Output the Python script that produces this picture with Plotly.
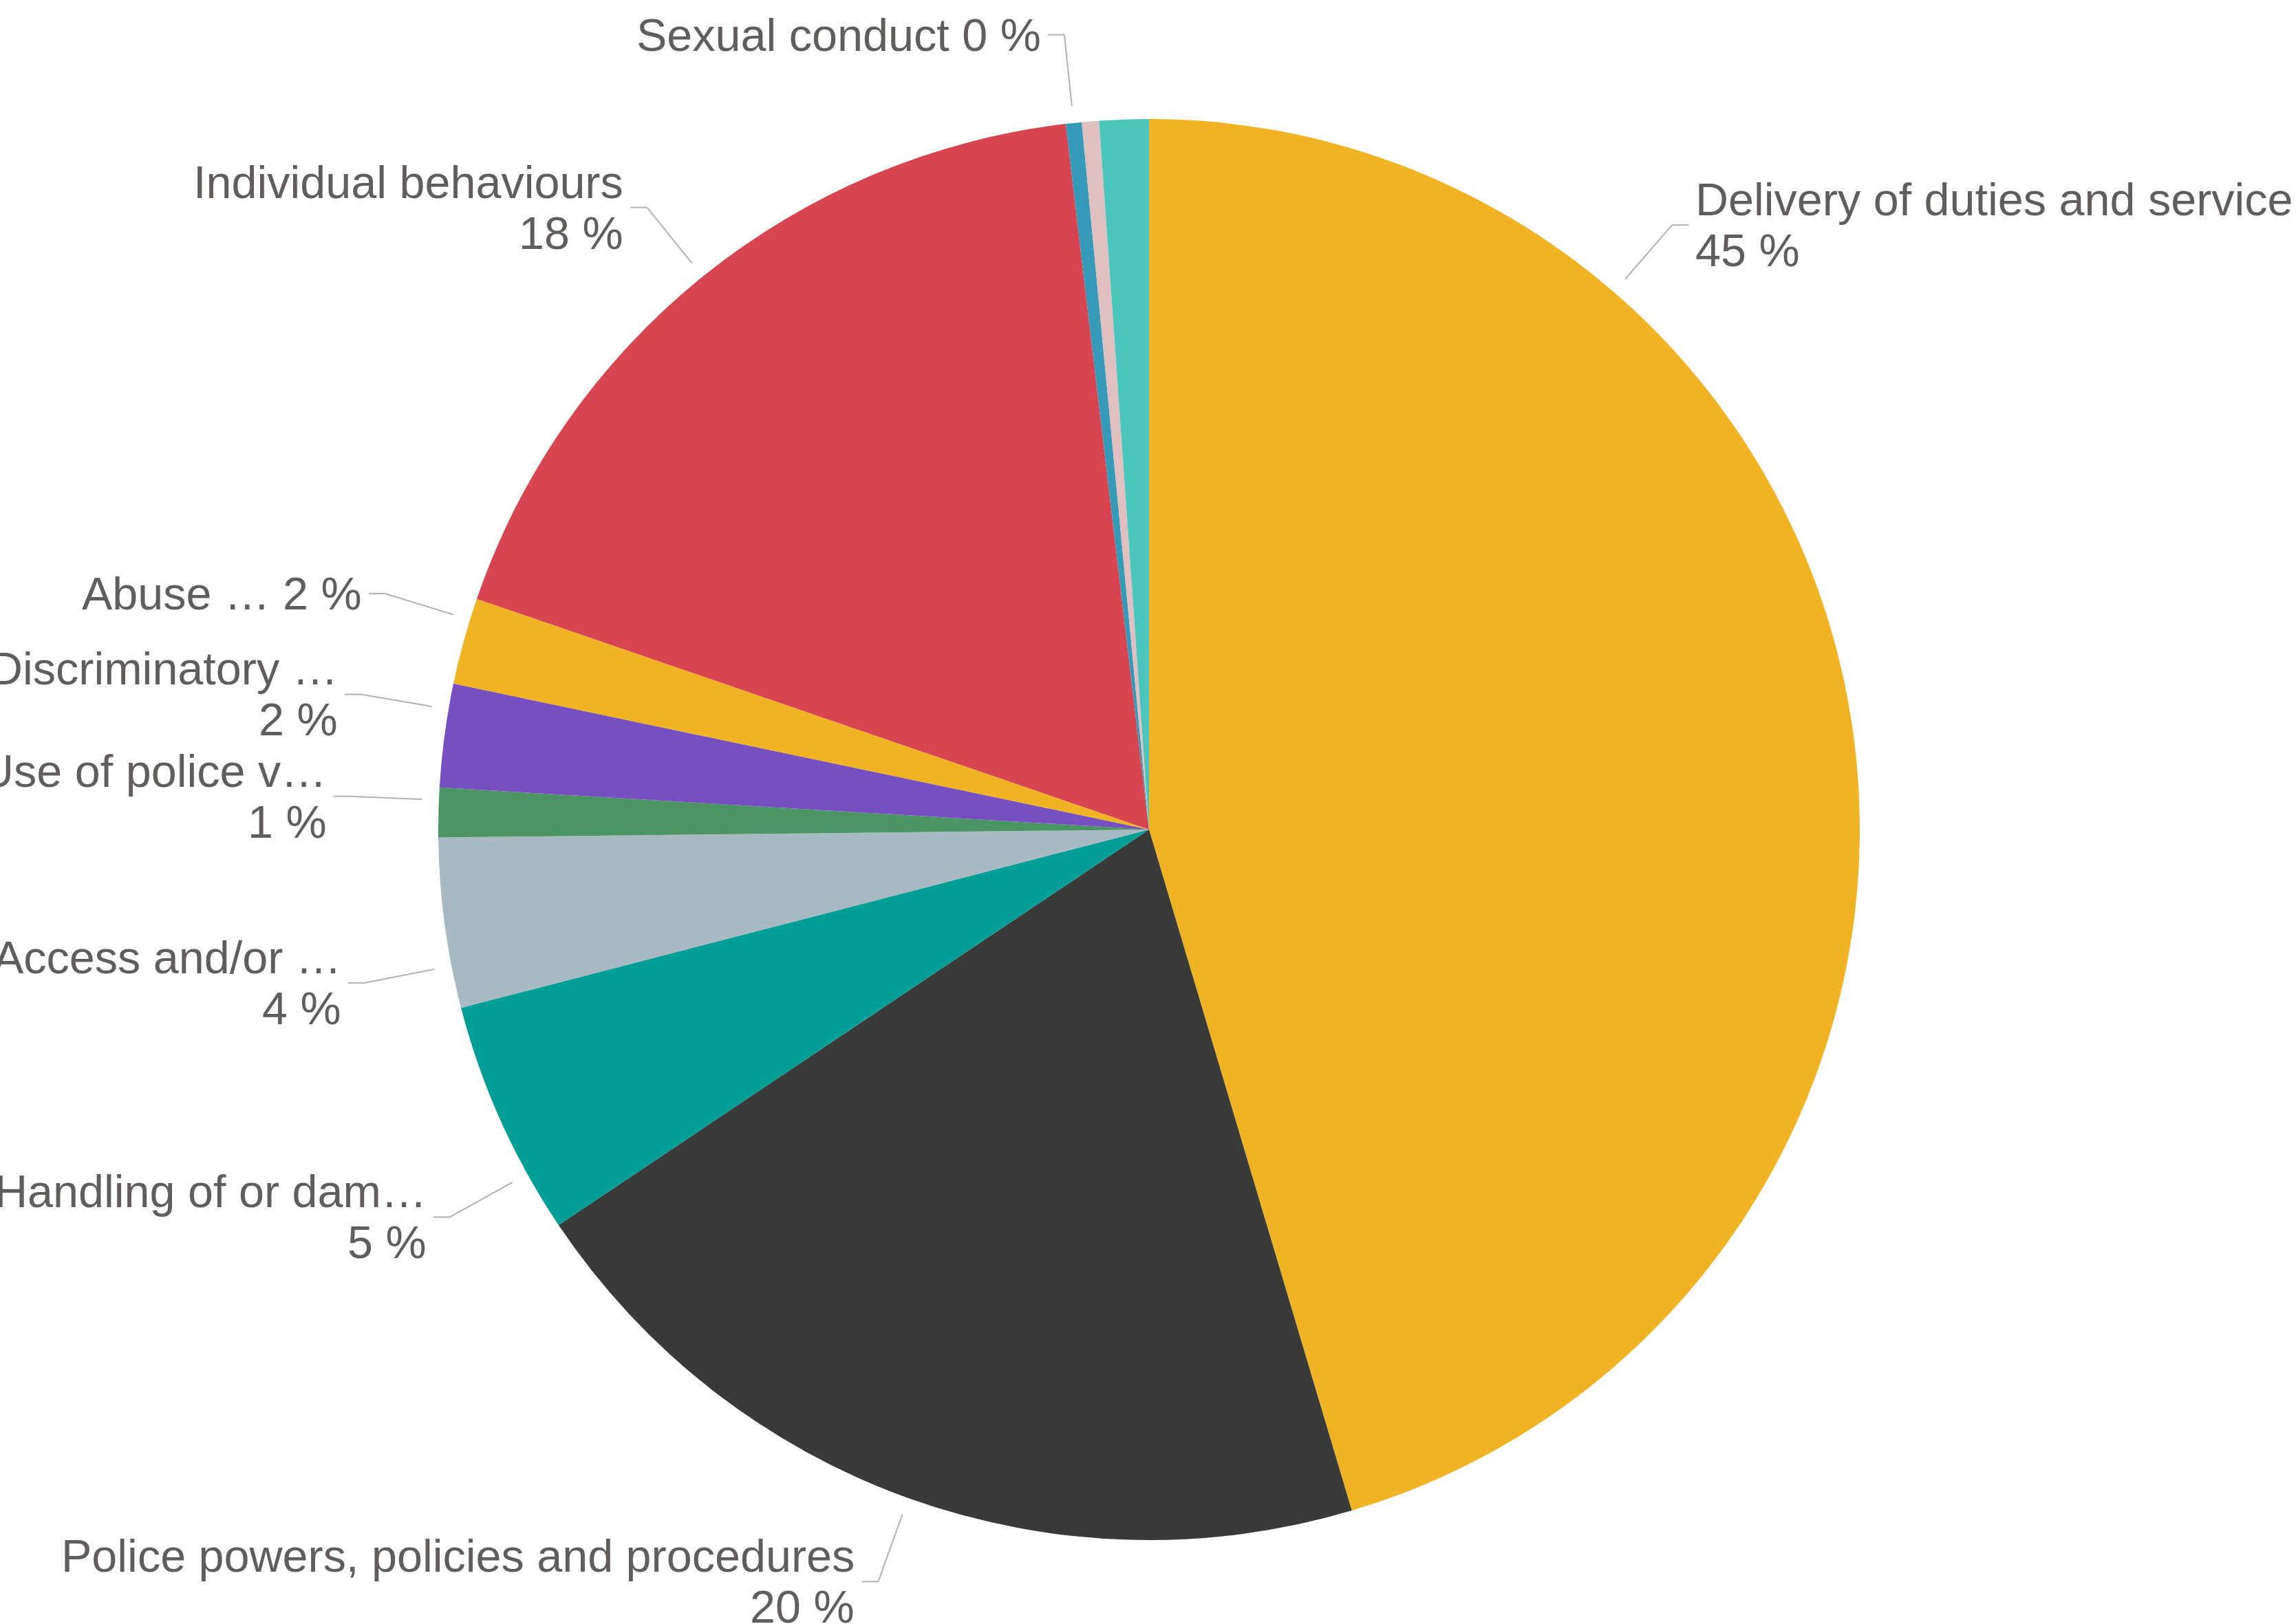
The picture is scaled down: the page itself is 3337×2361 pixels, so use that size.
import math
import plotly.graph_objects as go

# Complaint allegation categories (share of allegations, %)
categories = [
    "Delivery of duties and service",
    "Police powers, policies and procedures",
    "Handling of or damage to property/premises",
    "Access and/or disclosure of information",
    "Use of police vehicles",
    "Discriminatory behaviour",
    "Abuse of position/corruption",
    "Individual behaviours",
    "Sexual conduct",
    "Other",
    "Unknown",
]
values = [45.40, 20.21, 5.36, 3.86, 1.12, 2.35, 1.97, 17.87, 0.36, 0.39, 1.12]
colors = [
    "#F0B323", "#383B38", "#009E96", "#A8B9C2", "#4B9463", "#7650C1",
    "#F0B323", "#D64550", "#3599B8", "#DFBFBF", "#4AC5BB",
]
# Text shown next to each slice (truncated as displayed; empty = no label)
label_text = [
    "Delivery of duties and service",
    "Police powers, policies and procedures",
    "Handling of or dam\u2026",
    "Access and/or \u2026",
    "Use of police v\u2026",
    "Discriminatory \u2026",
    "Abuse \u2026",
    "Individual behaviours",
    "Sexual conduct",
    "",
    "",
]
# Labels drawn on a single line ("name pct") instead of two lines
single_line = [False, False, False, False, False, False, True, False, True, False, False]
# Where along each slice the leader line attaches (0 = start, 1 = end)
anchor_pos = [0.25, 0.5, 0.25, 0.25, 0.75, 0.75, 0.75, 0.5, 0.5, 0.5, 0.5]

W, H = 3337, 2361
CX, CY, R = 1670, 1206, 1033
FONT_SIZE = 66.5
TEXT_COLOR = "#605E5C"
LINE_COLOR = "#B3B0AD"


def px(x):
    return x / W


def py(y):
    return 1 - y / H


fig = go.Figure(
    go.Pie(
        labels=categories,
        values=values,
        sort=False,
        direction="clockwise",
        rotation=0,
        marker=dict(colors=colors, line=dict(width=0)),
        textinfo="none",
        hoverinfo="label+percent",
        showlegend=False,
        domain=dict(x=[px(CX - R), px(CX + R)], y=[py(CY + R), py(CY - R)]),
    )
)

total = sum(values)
shapes = []
annotations = []
start = 0.0
for name, v, txt, single, pos in zip(categories, values, label_text, single_line, anchor_pos):
    span = v / total * 360.0
    theta = math.radians(start + pos * span)
    start += span
    if not txt:
        continue
    pct = f"{round(v / total * 100)} %"
    s, c = math.sin(theta), math.cos(theta)
    ax, ay = CX + (R + 25) * s, CY - (R + 25) * c
    ex, ey = CX + (R + 129) * s, CY - (R + 129) * c
    right = s > 0
    hx = ex + (24 if right else -24)
    tx = ex + (32 if right else -32)
    anchor = "left" if right else "right"
    for x0, y0, x1, y1 in [(ax, ay, ex, ey), (ex, ey, hx, ey)]:
        shapes.append(dict(type="line", xref="paper", yref="paper",
                           x0=px(x0), y0=py(y0), x1=px(x1), y1=py(y1),
                           line=dict(color=LINE_COLOR, width=2)))
    font = dict(family="Liberation Sans, Arial, sans-serif", size=FONT_SIZE, color=TEXT_COLOR)
    if single:
        lines = [(f"{txt} {pct}", ey)]
    else:
        lines = [(txt, ey - 37), (pct, ey + 37)]
    for t, y in lines:
        annotations.append(dict(text=t, x=px(tx), y=py(y), xref="paper", yref="paper",
                                xanchor=anchor, yanchor="middle", showarrow=False,
                                font=font))

fig.update_layout(
    width=W,
    height=H,
    margin=dict(l=0, r=0, t=0, b=0),
    paper_bgcolor="white",
    plot_bgcolor="white",
    shapes=shapes,
    annotations=annotations,
)

fig.write_html("out.html")
